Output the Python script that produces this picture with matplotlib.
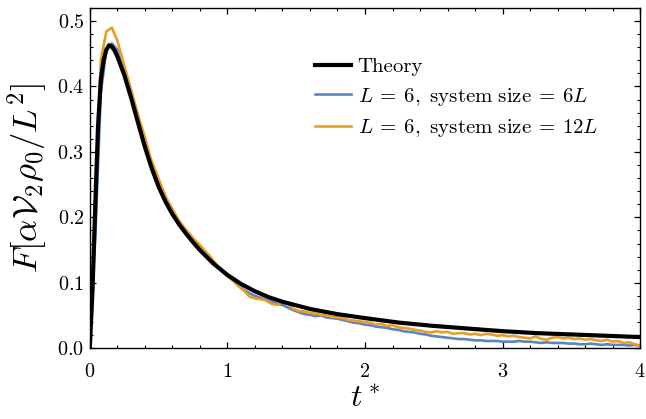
import numpy as np
import matplotlib
matplotlib.use("Agg")
import matplotlib.pyplot as plt
from matplotlib.ticker import MultipleLocator

plt.rcParams['font.family'] = 'serif'
plt.rcParams['font.serif'] = ['cmr10', 'DejaVu Serif']
plt.rcParams['mathtext.fontset'] = 'cm'
plt.rcParams['axes.formatter.use_mathtext'] = True

# theory curve
t_theory = [0.0, 0.02, 0.04, 0.06, 0.08, 0.10, 0.12, 0.14, 0.16, 0.18, 0.20,
            0.25, 0.30, 0.35, 0.40, 0.45, 0.50, 0.55, 0.60, 0.65, 0.70, 0.75,
            0.80, 0.90, 1.00, 1.10, 1.20, 1.30, 1.40, 1.60, 1.80, 2.00, 2.25,
            2.50, 2.75, 3.00, 3.25, 3.50, 3.75, 4.00]
F_theory = [0.0, 0.09, 0.22, 0.34, 0.41, 0.440, 0.456, 0.463, 0.461, 0.455, 0.446,
            0.418, 0.383, 0.345, 0.308, 0.275, 0.247, 0.224, 0.205, 0.189, 0.175, 0.162,
            0.150, 0.129, 0.112, 0.098, 0.087, 0.078, 0.071, 0.060, 0.052, 0.046, 0.039,
            0.034, 0.030, 0.026, 0.023, 0.021, 0.019, 0.017]

# simulation samples, every 0.04 in t*
t_sim = np.round(np.arange(0, 101) * 0.04, 2)
F_L6_size6 = [
    0.028, 0.170, 0.390, 0.455, 0.466, 0.456, 0.430, 0.400, 0.370, 0.342,
    0.315, 0.287, 0.263, 0.242, 0.224, 0.209, 0.195, 0.183, 0.172, 0.163,
    0.155, 0.146, 0.137, 0.127, 0.118, 0.111, 0.104, 0.096, 0.089, 0.084,
    0.080, 0.077, 0.074, 0.071, 0.068, 0.066, 0.062, 0.058, 0.055, 0.052,
    0.051, 0.049, 0.050, 0.047, 0.046, 0.045, 0.043, 0.041, 0.039, 0.038,
    0.036, 0.035, 0.033, 0.032, 0.031, 0.029, 0.028, 0.026, 0.025, 0.024,
    0.022, 0.021, 0.019, 0.018, 0.017, 0.016, 0.015, 0.014, 0.014, 0.013,
    0.012, 0.012, 0.011, 0.011, 0.011, 0.010, 0.010, 0.010, 0.011, 0.010,
    0.010, 0.009, 0.008, 0.009, 0.008, 0.008, 0.008, 0.007, 0.007, 0.006,
    0.006, 0.007, 0.006, 0.005, 0.006, 0.005, 0.005, 0.005, 0.004, 0.005,
    0.004]
F_L6_size12 = [
    0.010, 0.220, 0.440, 0.484, 0.490, 0.470, 0.440, 0.410, 0.380, 0.350,
    0.323, 0.292, 0.270, 0.248, 0.228, 0.213, 0.198, 0.186, 0.176, 0.166,
    0.158, 0.148, 0.139, 0.128, 0.118, 0.110, 0.103, 0.095, 0.088, 0.079,
    0.076, 0.075, 0.073, 0.068, 0.066, 0.070, 0.068, 0.060, 0.057, 0.056,
    0.054, 0.053, 0.051, 0.050, 0.048, 0.047, 0.046, 0.043, 0.042, 0.041,
    0.040, 0.039, 0.036, 0.037, 0.034, 0.035, 0.032, 0.031, 0.030, 0.028,
    0.027, 0.025, 0.024, 0.026, 0.024, 0.025, 0.022, 0.023, 0.023, 0.021,
    0.022, 0.020, 0.022, 0.021, 0.019, 0.020, 0.018, 0.019, 0.017, 0.016,
    0.015, 0.018, 0.014, 0.013, 0.016, 0.017, 0.015, 0.016, 0.014, 0.015,
    0.013, 0.014, 0.012, 0.011, 0.013, 0.010, 0.011, 0.008, 0.009, 0.006,
    0.004]

labels = ['Theory',
          r'$L\:=\:6,\ \mathrm{system\ size}\:=\:6L$',
          r'$L\:=\:6,\ \mathrm{system\ size}\:=\:12L$']

fig = plt.figure(figsize=(6.46, 4.19), dpi=100)
ax = fig.add_axes([0.139, 0.169, 0.852, 0.812])

ax.plot(t_sim, F_L6_size6, color='#5b84c1', lw=1.9, label=labels[1], zorder=2)
ax.plot(t_sim, F_L6_size12, color='#e69f25', lw=1.9, label=labels[2], zorder=2)
ax.plot(t_theory, F_theory, color='black', lw=3.0, label=labels[0], zorder=3)

ax.set_xlim(0, 4)
ax.set_ylim(0, 0.52)
ax.xaxis.set_major_locator(MultipleLocator(1))
ax.xaxis.set_minor_locator(MultipleLocator(0.2))
ax.yaxis.set_major_locator(MultipleLocator(0.1))
ax.yaxis.set_minor_locator(MultipleLocator(0.02))
ax.tick_params(which='both', direction='in', top=True, right=True, labelsize=14.5)
ax.tick_params(which='major', length=4.5, width=0.9)
ax.tick_params(which='minor', length=2.5, width=0.8)
ax.tick_params(axis='x', which='major', pad=11)
ax.tick_params(axis='y', which='major', pad=4)
for s in ax.spines.values():
    s.set_linewidth(1.0)

ax.set_xlabel(r'$t^*$', fontsize=23)
ax.set_ylabel(r'$F[\alpha \mathcal{V}_2 \rho_0 / L^2]$', fontsize=25)
ax.yaxis.set_label_coords(-0.075, 0.5)
ax.xaxis.set_label_coords(0.5, -0.11)

handles, labs = ax.get_legend_handles_labels()
order = [2, 0, 1]
ax.legend([handles[i] for i in order], [labs[i] for i in order],
          frameon=False, fontsize=15, loc='upper left',
          bbox_to_anchor=(0.375, 0.909), handlelength=1.75, handletextpad=0.3,
          labelspacing=0.45)

fig.savefig('out.png', dpi=100)
